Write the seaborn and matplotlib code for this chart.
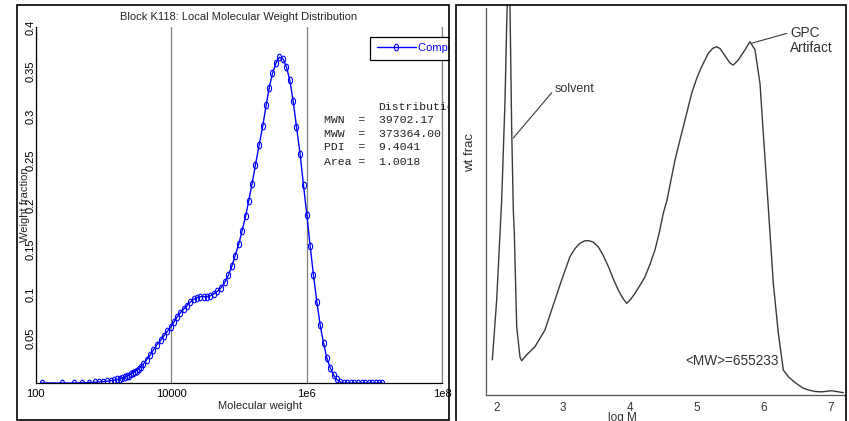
import numpy as np
import pandas as pd
import matplotlib
matplotlib.use("Agg")
import matplotlib.pyplot as plt
import seaborn as sns
from matplotlib.path import Path
from matplotlib.transforms import Affine2D, Bbox, TransformedBbox
from matplotlib.patches import Rectangle
from matplotlib.ticker import NullLocator

W, H = 849, 421

# ---------------- Left panel data ----------------
log10_mw = [
    2.089, 2.394, 2.571, 2.690, 2.793, 2.877, 2.941, 3.000, 3.059, 3.113,
    3.163, 3.207, 3.246, 3.281, 3.315, 3.345, 3.374, 3.404, 3.433, 3.463,
    3.493, 3.522, 3.552, 3.591, 3.640, 3.690, 3.739, 3.793, 3.847, 3.897,
    3.946, 3.995, 4.039, 4.089, 4.138, 4.187, 4.236, 4.286, 4.335, 4.384,
    4.433, 4.483, 4.532, 4.581, 4.631, 4.685, 4.739, 4.793, 4.847, 4.897,
    4.946, 5.000, 5.049, 5.103, 5.148, 5.197, 5.246, 5.300, 5.355, 5.404,
    5.448, 5.498, 5.552, 5.601, 5.655, 5.704, 5.754, 5.803, 5.852, 5.906,
    5.956, 6.005, 6.054, 6.103, 6.153, 6.202, 6.251, 6.300, 6.350, 6.399,
    6.448, 6.498, 6.547, 6.601, 6.655, 6.704, 6.759, 6.813, 6.862, 6.916,
    6.966, 7.020, 7.069, 7.118,
]
weight_fraction = [
    0.0, 0.0, 0.0, 0.0003, 0.0005, 0.0008, 0.0011, 0.0015, 0.002, 0.0026,
    0.0033, 0.004, 0.0048, 0.0056, 0.0065, 0.0074, 0.0084, 0.0096, 0.011, 0.0125,
    0.014, 0.016, 0.018, 0.021, 0.026, 0.031, 0.037, 0.043, 0.048, 0.053,
    0.058, 0.063, 0.068, 0.074, 0.079, 0.083, 0.087, 0.091, 0.094, 0.096,
    0.097, 0.097, 0.097, 0.098, 0.100, 0.103, 0.107, 0.113, 0.121, 0.131,
    0.143, 0.156, 0.171, 0.188, 0.205, 0.224, 0.245, 0.267, 0.289, 0.312,
    0.331, 0.348, 0.360, 0.366, 0.364, 0.355, 0.340, 0.317, 0.288, 0.257,
    0.222, 0.189, 0.154, 0.121, 0.091, 0.065, 0.045, 0.028, 0.017, 0.009,
    0.004, 0.001, 0.0, 0.0, 0.0, 0.0, 0.0, 0.0, 0.0, 0.0,
    0.0, 0.0, 0.0, 0.0,
]
left_xticks = [1e2, 1e4, 1e6, 1e8]
left_xticklabels = ["100", "10000", "1e6", "1e8"]
left_yticks = [0.05, 0.1, 0.15, 0.2, 0.25, 0.3, 0.35, 0.4]
left_yticklabels = ["0.05", "0.1", "0.15", "0.2", "0.25", "0.3", "0.35", "0.4"]
stat_names = ["MWN", "MWW", "PDI", "Area"]
stat_values = ["39702.17", "373364.00", "9.4041", "1.0018"]

# ---------------- Right panel data ----------------
log_m = [
    1.990, 2.055, 2.130, 2.180, 2.210, 2.228, 2.254, 2.280, 2.304, 2.319,
    2.355, 2.404, 2.430, 2.504, 2.629, 2.778, 2.928, 3.028, 3.153, 3.230,
    3.302, 3.370, 3.427, 3.500, 3.576, 3.650, 3.728, 3.800, 3.876, 3.940,
    4.001, 4.060, 4.126, 4.200, 4.275, 4.350, 4.425, 4.490, 4.549, 4.605,
    4.725, 4.800, 4.874, 4.975, 5.050, 5.124, 5.223, 5.290, 5.349, 5.400,
    5.448, 5.548, 5.597, 5.672, 5.772, 5.847, 5.922, 5.997, 6.046, 6.097,
    6.147, 6.196, 6.271, 6.346, 6.421, 6.500, 6.570, 6.640, 6.720, 6.820,
    6.921, 7.070, 7.244,
]
wt_frac = [
    0.090, 0.244, 0.500, 0.756, 0.987, 1.033, 1.000, 0.679, 0.474, 0.415,
    0.174, 0.097, 0.088, 0.103, 0.124, 0.167, 0.244, 0.295, 0.355, 0.376,
    0.389, 0.395, 0.396, 0.392, 0.380, 0.358, 0.329, 0.298, 0.269, 0.249,
    0.235, 0.245, 0.261, 0.281, 0.303, 0.335, 0.372, 0.417, 0.466, 0.500,
    0.603, 0.655, 0.705, 0.774, 0.812, 0.842, 0.876, 0.889, 0.893, 0.888,
    0.876, 0.851, 0.846, 0.859, 0.885, 0.906, 0.885, 0.799, 0.672, 0.544,
    0.415, 0.287, 0.159, 0.064, 0.047, 0.035, 0.026, 0.018, 0.013, 0.009,
    0.008, 0.011, 0.006,
]
right_xticks = [2, 3, 4, 5, 6, 7]
right_xticklabels = ["2", "3", "4", "5", "6", "7"]

# ---------------- Styling ----------------
sns.set_style("white")
plt.rcParams["font.family"] = ["Liberation Sans", "DejaVu Sans"]

fig = plt.figure(figsize=(W / 100, H / 100), dpi=100)
fig.patch.set_facecolor("white")


def fx(px):
    return px / W


def fy(py):
    return 1 - py / H


left_clip = TransformedBbox(Bbox([[fx(16.5), fy(419.5)], [fx(449.5), fy(4.5)]]),
                            fig.transFigure)

# ---------------- Left panel ----------------
ax = fig.add_axes([fx(35.5), fy(383), (442 - 35.5) / W, (383 - 27) / H])
ax.set_xscale("log")
df_left = pd.DataFrame({"mw": 10 ** np.array(log10_mw), "wf": weight_fraction})
ellipse = Path.unit_circle().transformed(Affine2D().scale(0.62, 1.0))
sns.lineplot(data=df_left, x="mw", y="wf", ax=ax, color="blue", lw=1,
             marker=ellipse, markersize=4.8, estimator=None, sort=False,
             label="Component 1")
ln = ax.lines[0]
ln.set_markerfacecolor("none")
ln.set_markeredgecolor("blue")
ln.set_markeredgewidth(0.8)

ax.set_xlim(1e2, 1e8)
ax.set_ylim(0, 0.4)
ax.set_xticks(left_xticks)
ax.set_xticklabels(left_xticklabels)
ax.xaxis.set_minor_locator(NullLocator())
ax.set_yticks(left_yticks)
ax.set_yticklabels(left_yticklabels, rotation=90, va="center")
ax.tick_params(axis="both", direction="in", length=2.5, width=0.8,
               labelsize=8, colors="black")
ax.tick_params(axis="x", pad=4)
ax.tick_params(axis="y", pad=0)
ax.grid(True, axis="x", color="#808080", lw=0.9)
ax.grid(False, axis="y")
ax.spines["top"].set_visible(False)
ax.spines["right"].set_visible(True)
ax.spines["right"].set_color("#808080")
ax.spines["right"].set_linewidth(0.9)
for s in ["left", "bottom"]:
    ax.spines[s].set_color("black")
    ax.spines[s].set_linewidth(0.9)

ax.set_title("Block K118: Local Molecular Weight Distribution", fontsize=8,
             y=(383 - 17) / 356, va="center", pad=0)
ax.set_xlabel("Molecular weight", fontsize=8)
ax.xaxis.set_label_coords((260 - 35.5) / 406.5, (383 - 406) / 356)
ax.xaxis.label.set_va("center")
ax.set_ylabel("Weight fraction", fontsize=8)
ax.yaxis.set_label_coords((25 - 35.5) / 406.5, 0.5)
ax.yaxis.label.set_va("center")

leg = ax.legend(loc="upper left", bbox_to_anchor=(fx(370.3), fy(36.7)),
                bbox_transform=fig.transFigure, frameon=True, fancybox=False,
                edgecolor="black", framealpha=1, borderaxespad=0,
                borderpad=0.6, handlelength=3.5, handletextpad=0.15,
                fontsize=8)
leg.get_frame().set_linewidth(0.9)
for t in leg.get_texts():
    t.set_color("blue")
for a in [leg.legendPatch] + leg.get_texts() + list(leg.legend_handles):
    a.set_clip_on(True)
    a.set_clip_box(left_clip)

mono = {"family": ["Liberation Mono", "DejaVu Sans Mono"], "size": 8.25,
        "color": "#222222"}
t = fig.text(fx(378.5), fy(107.3), "Distribution", va="center", ha="left", **mono)
t.set_clip_on(True)
t.set_clip_box(left_clip)
for i, (n, v) in enumerate(zip(stat_names, stat_values)):
    yy = [120.0, 134.0, 147.5, 161.7][i]
    t = fig.text(fx(324), fy(yy), f"{n:<4} =  {v}", va="center", ha="left", **mono)
    t.set_clip_on(True)
    t.set_clip_box(left_clip)

# ---------------- Right panel ----------------
gray = "#3a3a3a"
ax2 = fig.add_axes([fx(486), fy(395), (845 - 486) / W, (395 - 5) / H])
sns.lineplot(x=log_m, y=wt_frac, ax=ax2, color=gray, lw=1, estimator=None,
             sort=False, legend=False)
ax2.set_xlim(1.8952, 7.2695)
ax2.set_ylim(0, 1)
ax2.set_yticks([])
ax2.set_xticks(right_xticks)
ax2.set_xticklabels(right_xticklabels)
for lbl in ax2.get_xticklabels():
    lbl.set_ha("left")
ax2.tick_params(axis="x", direction="inout", length=12, width=0.9,
                color="#444444", labelsize=8.5, labelcolor="#333333", pad=-1)
for s in ["top", "right"]:
    ax2.spines[s].set_visible(False)
ax2.spines["left"].set_bounds(0, (395 - 8) / 390)
for s in ["left", "bottom"]:
    ax2.spines[s].set_color("#555555")
    ax2.spines[s].set_linewidth(0.9)
ax2.patch.set_alpha(0)

ax2.set_xlabel("log M", fontsize=8.5, color="#333333")
ax2.xaxis.set_label_coords((622.7 - 486) / 359, (395 - 418) / 390)
ax2.xaxis.label.set_va("center")
ax2.set_ylabel("wt frac", fontsize=9.5, color="#333333")
ax2.yaxis.set_label_coords((470 - 486) / 359, (395 - 153) / 390)
ax2.yaxis.label.set_va("center")

ann_kw = dict(arrowstyle="-", color=gray, lw=0.8, shrinkA=0, shrinkB=0)
ax2.annotate("solvent", xy=(2.304, 0.659), xytext=(2.928, 0.785),
             fontsize=9, color="#333333", ha="left", va="center",
             arrowprops=dict(ann_kw, relpos=(0, 0.5)))
ax2.annotate("GPC\nArtifact", xy=(5.873, 0.902), xytext=(6.446, 0.909),
             fontsize=9.8, color="#333333", ha="left", va="center",
             linespacing=1.05, arrowprops=dict(ann_kw, relpos=(0, 0.78)))
ax2.text(4.874, 0.087, "<MW>=655233", fontsize=9.8, color="#333333",
         ha="left", va="center")

# ---------------- Panel frames ----------------
fig.add_artist(Rectangle((fx(16.5), fy(419.5)), fx(449.5) - fx(16.5),
                         fy(4.5) - fy(419.5), transform=fig.transFigure,
                         fill=False, ec="black", lw=1.2))
fig.add_artist(Rectangle((fx(455.5), fy(430)), fx(845.5) - fx(455.5),
                         fy(4.5) - fy(430), transform=fig.transFigure,
                         fill=False, ec="black", lw=1.2, clip_on=False))

fig.savefig("out.png", dpi=100, facecolor="white")
